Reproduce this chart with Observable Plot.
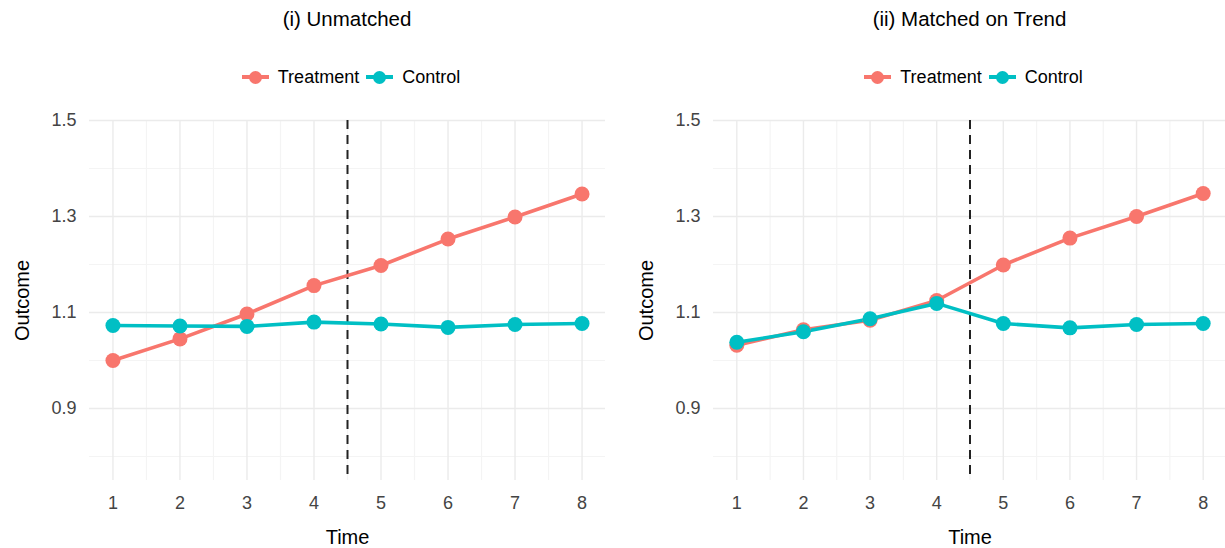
<!DOCTYPE html>
<html>
<head>
<meta charset="utf-8">
<script src="https://cdn.jsdelivr.net/npm/d3@7"></script>
<script src="https://cdn.jsdelivr.net/npm/@observablehq/plot@0.6"></script>
<style>
  html, body { margin: 0; padding: 0; background: #fff; overflow: hidden; }
  body { width: 1225px; height: 548px; position: relative; font-family: "Liberation Sans", Arial, sans-serif; }
  .panel { position: absolute; top: 0; height: 548px; }
  .title { position: absolute; top: 5px; height: 28px; line-height: 28px; text-align: center; font-size: 20.5px; color: #000; white-space: nowrap; }
  .legend { position: absolute; top: 64px; height: 26px; display: flex; justify-content: center; align-items: center; font-size: 18px; color: #000; white-space: nowrap; }
  .item { display: flex; align-items: center; margin: 0 3.5px; }
  .key { position: relative; width: 27px; height: 16px; margin-right: 9px; }
  .key .ln { position: absolute; left: 0; right: 0; top: 6.25px; height: 3.5px; }
  .key .dt { position: absolute; left: 7px; top: 1.5px; width: 13px; height: 13px; border-radius: 50%; }
  .plotwrap { position: absolute; top: 100px; left: 0; }
</style>
</head>
<body>
<script>
// ---- data ----
const time = [1, 2, 3, 4, 5, 6, 7, 8];
const seriesNames = ["Treatment", "Control"];
const seriesColors = ["#F8766D", "#00BFC4"];
const panelTitles = ["(i) Unmatched", "(ii) Matched on Trend"];
const unmatchedTreatment = [1.000, 1.045, 1.097, 1.156, 1.198, 1.253, 1.299, 1.347];
const unmatchedControl   = [1.073, 1.072, 1.071, 1.080, 1.076, 1.069, 1.075, 1.077];
const matchedTreatment   = [1.032, 1.064, 1.084, 1.125, 1.199, 1.255, 1.300, 1.348];
const matchedControl     = [1.038, 1.060, 1.087, 1.119, 1.077, 1.068, 1.075, 1.077];
const xTicks = [1, 2, 3, 4, 5, 6, 7, 8];
const xMinor = [1.5, 2.5, 3.5, 4.5, 5.5, 6.5, 7.5];
const yTicks = [0.9, 1.1, 1.3, 1.5];
const yMinor = [0.8, 1.0, 1.2, 1.4];
const treatmentStart = 4.5;

const FONT = '"Liberation Sans", Arial, sans-serif';

function rows(treat, ctrl) {
  const out = [];
  time.forEach((t, i) => out.push({time: t, outcome: treat[i], group: seriesNames[0]}));
  time.forEach((t, i) => out.push({time: t, outcome: ctrl[i], group: seriesNames[1]}));
  return out;
}

function panel(title, treat, ctrl, left, width, mLeft, mRight) {
  const div = document.createElement("div");
  div.className = "panel";
  div.style.left = left + "px";
  div.style.width = width + "px";
  const plotW = width - mLeft - mRight;

  const t = document.createElement("div");
  t.className = "title";
  t.style.left = mLeft + "px";
  t.style.width = plotW + "px";
  t.textContent = title;
  div.appendChild(t);

  const lg = document.createElement("div");
  lg.className = "legend";
  lg.style.left = (mLeft + 4) + "px";
  lg.style.width = plotW + "px";
  seriesNames.forEach((name, i) => {
    const it = document.createElement("div");
    it.className = "item";
    const k = document.createElement("div");
    k.className = "key";
    const ln = document.createElement("div"); ln.className = "ln"; ln.style.background = seriesColors[i];
    const dt = document.createElement("div"); dt.className = "dt"; dt.style.background = seriesColors[i];
    k.appendChild(ln); k.appendChild(dt);
    const s = document.createElement("span"); s.textContent = name;
    it.appendChild(k); it.appendChild(s);
    lg.appendChild(it);
  });
  div.appendChild(lg);

  const data = rows(treat, ctrl);
  const color = {domain: seriesNames, range: seriesColors};
  const chart = Plot.plot({
    width: width,
    height: 448,
    marginTop: 20,
    marginBottom: 68,
    marginLeft: mLeft,
    marginRight: mRight,
    style: {fontFamily: FONT, fontSize: "18px", color: "#444", background: "transparent", overflow: "visible"},
    x: {domain: [0.65, 8.35], ticks: xTicks, tickSize: 0, tickPadding: 16, label: null, tickFormat: d3.format("d")},
    y: {domain: [0.75, 1.5], ticks: yTicks, tickSize: 0, tickPadding: 13, label: null, tickFormat: d3.format(".1f")},
    color: color,
    marks: [
      Plot.ruleY(yMinor, {stroke: "#f4f4f4", strokeWidth: 1.2}),
      Plot.ruleX(xMinor, {stroke: "#f4f4f4", strokeWidth: 1.2}),
      Plot.ruleY(yTicks, {stroke: "#ebebeb", strokeWidth: 1.4}),
      Plot.ruleX(xTicks, {stroke: "#ebebeb", strokeWidth: 1.4}),
      Plot.ruleX([treatmentStart], {stroke: "#222", strokeWidth: 2, strokeDasharray: "9,6"}),
      Plot.lineY(data, {x: "time", y: "outcome", z: "group", stroke: "group", strokeWidth: 3.6}),
      Plot.dot(data, {x: "time", y: "outcome", fill: "group", r: 7.5, stroke: null}),
      Plot.text(["Outcome"], {frameAnchor: "left", dx: -67, rotate: -90, textAnchor: "middle", lineAnchor: "middle", fontSize: 20, fill: "#000", fontFamily: FONT}),
      Plot.text(["Time"], {frameAnchor: "bottom", dy: 57, textAnchor: "middle", lineAnchor: "middle", fontSize: 20, fill: "#000", fontFamily: FONT})
    ]
  });
  const wrap = document.createElement("div");
  wrap.className = "plotwrap";
  wrap.appendChild(chart);
  div.appendChild(wrap);
  document.body.appendChild(div);
}

panel(panelTitles[0], unmatchedTreatment, unmatchedControl, 0, 612, 89, 7);
panel(panelTitles[1], matchedTreatment, matchedControl, 612, 614, 101, 0);
</script>
</body>
</html>
